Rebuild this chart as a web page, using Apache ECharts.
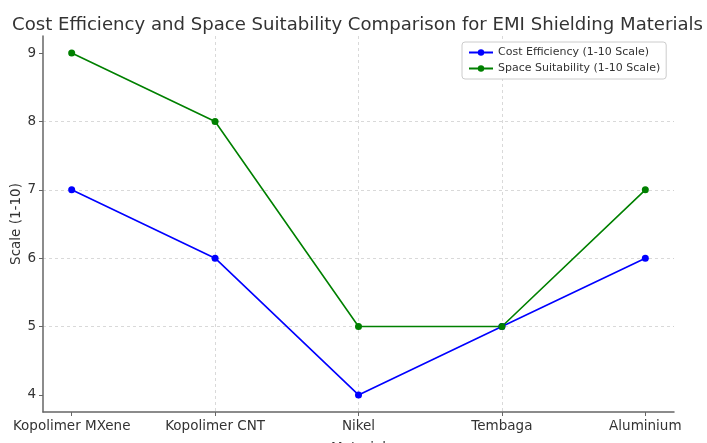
<!DOCTYPE html>
<html>
<head>
<meta charset="utf-8">
<script src="https://cdn.jsdelivr.net/npm/echarts@6/dist/echarts.min.js"></script>
<style>html,body{margin:0;padding:0;background:#fff;}#c{width:707px;height:443px;}</style>
</head>
<body>
<div id="c"></div>
<script>
const categories = ['Kopolimer MXene', 'Kopolimer CNT', 'Nikel', 'Tembaga', 'Aluminium'];
const costEfficiency = [7, 6, 4, 5, 6];
const spaceSuitability = [9, 8, 5, 5, 7];
const yTicks = [4, 5, 6, 7, 8, 9];
const xTicks = [0, 1, 2, 3, 4];

const font = 'DejaVu Sans, sans-serif';
const chart = echarts.init(document.getElementById('c'), null, {renderer: 'canvas'});
const mk = (vals) => vals.map((v, i) => [i, v]);
chart.setOption({
  animation: false,
  backgroundColor: '#fff',
  title: {
    text: 'Cost Efficiency and Space Suitability Comparison for EMI Shielding Materials',
    left: 7,
    top: 11,
    textStyle: {fontFamily: font, fontSize: 18.1, fontWeight: 'normal', color: '#333'}
  },
  legend: {
    left: 462, top: 42,
    orient: 'vertical',
    itemGap: 5,
    itemWidth: 24, itemHeight: 8,
    padding: [5, 6, 5, 6],
    backgroundColor: '#fff',
    borderColor: '#ccc', borderWidth: 1, borderRadius: 3,
    textStyle: {fontFamily: font, fontSize: 11, color: '#333'},
    data: ['Cost Efficiency (1-10 Scale)', 'Space Suitability (1-10 Scale)']
  },
  grid: {left: 43, right: 33, top: 36, bottom: 31, containLabel: false, outerBoundsMode: 'none'},
  xAxis: {
    type: 'value',
    min: -0.2, max: 4.2,
    splitNumber: 5,
    name: 'Material',
    nameLocation: 'middle',
    nameGap: 29,
    nameTextStyle: {fontFamily: font, fontSize: 13.5, color: '#333'},
    axisLine: {show: true, onZero: false, lineStyle: {color: '#666', width: 1.5}},
    axisTick: {show: true, customValues: xTicks, length: 4, lineStyle: {color: '#666'}},
    axisLabel: {customValues: xTicks, formatter: v => categories[Math.round(v)] || '', fontFamily: font, fontSize: 13.5, color: '#333', margin: 7},
    splitLine: {show: true, showMinLine: false, showMaxLine: false, lineStyle: {color: '#d0d0d0', type: [3, 3], width: 0.8}}
  },
  yAxis: {
    type: 'value',
    min: 3.75, max: 9.25,
    splitNumber: 5,
    name: 'Scale (1-10)',
    nameLocation: 'middle',
    nameGap: 20,
    nameMoveOverlap: false,
    nameTextStyle: {fontFamily: font, fontSize: 13.5, color: '#333'},
    axisLine: {show: true, onZero: false, lineStyle: {color: '#666', width: 1.5}},
    axisTick: {show: true, customValues: yTicks, length: 4, lineStyle: {color: '#666'}},
    axisLabel: {customValues: yTicks, fontFamily: font, fontSize: 13.5, color: '#333', margin: 7},
    splitLine: {show: true, showMinLine: false, showMaxLine: false, lineStyle: {color: '#d0d0d0', type: [3, 3], width: 0.8}}
  },
  series: [
    {
      name: 'Cost Efficiency (1-10 Scale)',
      type: 'line',
      data: mk(costEfficiency),
      symbol: 'circle', symbolSize: 7,
      itemStyle: {color: '#0000ff'},
      lineStyle: {color: '#0000ff', width: 1.6}
    },
    {
      name: 'Space Suitability (1-10 Scale)',
      type: 'line',
      data: mk(spaceSuitability),
      symbol: 'circle', symbolSize: 7,
      itemStyle: {color: '#008000'},
      lineStyle: {color: '#008000', width: 1.6}
    }
  ]
});
</script>
</body>
</html>
